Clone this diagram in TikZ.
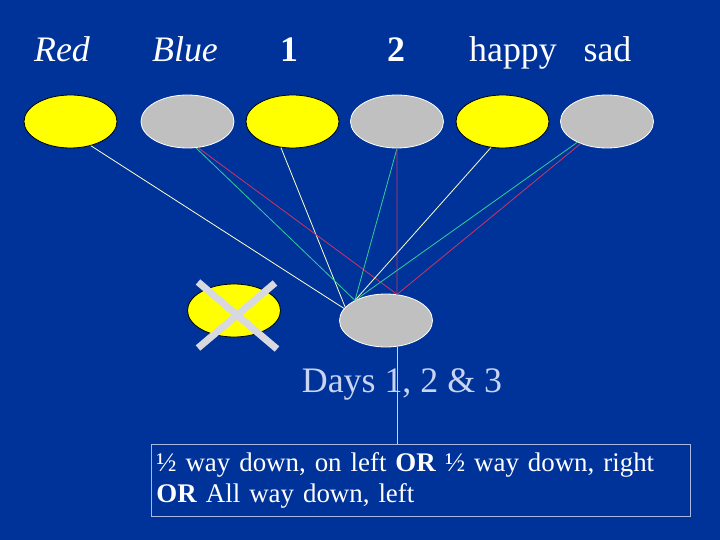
\documentclass[tikz,border=0pt]{standalone}
\usepackage{fontspec}
\setmainfont{Liberation Serif}
\usetikzlibrary{shapes.geometric}
\definecolor{bg}{HTML}{003399}
\definecolor{ylw}{HTML}{FFFF00}
\definecolor{gry}{HTML}{C0C0C0}
\definecolor{lnw}{HTML}{FFFFCC}
\definecolor{lng}{HTML}{33CC99}
\definecolor{lnr}{HTML}{CC3366}
\definecolor{lav}{HTML}{C8D4F0}
\definecolor{boxc}{HTML}{A8B8E0}
\definecolor{crossc}{HTML}{D8D8E0}
\tikzset{
  ov/.style={ellipse, minimum width=93bp, minimum height=53bp, inner sep=0pt, line width=0.8bp},
  yov/.style={ov, fill=ylw, draw=black},
  gov/.style={ov, fill=gry, draw=white},
  lbl/.style={text=white, anchor=base, inner sep=0pt, font=\fontsize{36}{40}\selectfont},
  wl/.style={draw=lnw, line width=0.8bp},
  gl/.style={draw=lng, line width=0.8bp},
  rl/.style={draw=lnr, line width=0.8bp},
  xl/.style={draw=crossc, line width=7bp}
}
\begin{document}
\begin{tikzpicture}[x=1bp,y=-1bp]
\fill[bg] (0,0) rectangle (720,540);
\useasboundingbox (0,0) rectangle (720,540);
% labels
\node[lbl] (tred) at (62,62) {\itshape Red};
\node[lbl] (tblue) at (185,62) {\itshape Blue};
\node[lbl] (tone) at (289,62) {\bfseries 1};
\node[lbl] (ttwo) at (396,62) {\bfseries 2};
\node[lbl] (thappy) at (513,62) {happy};
\node[lbl] (tsad) at (607.5,62) {sad};
% top ellipses
\node[yov] (e1) at (70.5,121.5) {};
\node[gov] (e2) at (187.5,121.5) {};
\node[yov] (e3) at (292.5,121.5) {};
\node[gov] (e4) at (397,121.5) {};
\node[yov] (e5) at (502.5,121.5) {};
\node[gov] (e6) at (607,121.5) {};
% bottom ellipse
\node[gov] (b) at (386,320.5) {};
% connectors
\draw[wl] (e1.-50) -- (b.164);
\draw[wl] (e3.-114) -- (b.162);
\draw[gl] (e2.-72) -- (b.147);
\draw[rl] (e2.-68) -- (b.67);
\draw[gl] (e4.-90) -- (b.147);
\draw[rl] (e4.-90) -- (b.67);
\draw[wl] (e5.-114) -- (b.147);
\draw[gl] (e6.-145) -- (b.147);
\draw[rl] (e6.-140) -- (b.67);
% crossed ellipse
\node[yov] (x0) at (234,310.5) {};
\draw[xl] (198,282) -- (277,349);
\draw[xl] (275,283) -- (198,348);
% days label
\node[lbl, text=lav] (days) at (402,392) {Days 1, 2 \& 3};
% box
\node[draw=boxc, line width=0.8bp, anchor=north west, minimum width=539bp, minimum height=72bp,
      text width=529bp, inner sep=5bp, align=left, text=white,
      font=\fontsize{27}{32}\selectfont] (box) at (151,444)
  {½ way down, on left \textbf{OR} ½ way down, right\\\textbf{OR} All way down, left};
\draw[draw=lav, line width=0.8bp] (b.-67) -- (b.-67 |- box.north);
\end{tikzpicture}
\end{document}
